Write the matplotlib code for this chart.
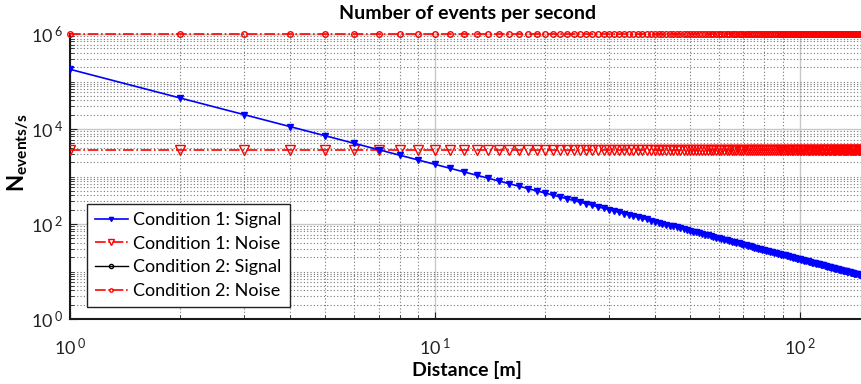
import matplotlib
matplotlib.use("Agg")
import matplotlib.pyplot as plt
from matplotlib.ticker import FixedLocator, FixedFormatter, NullFormatter

plt.rcParams['font.family'] = ['Lato', 'DejaVu Sans']
plt.rcParams['mathtext.fontset'] = 'custom'
plt.rcParams['mathtext.rm'] = 'Lato'
plt.rcParams['mathtext.it'] = 'Lato:italic'
plt.rcParams['mathtext.bf'] = 'Lato:bold'
plt.rcParams['mathtext.default'] = 'regular'

# Distance from the source [m]
distance = list(range(1, 151))

# Condition 1 signal rate [events/s] at each distance
cond1_signal = [
    180000, 45000, 20000, 11250, 7200, 5000, 3673, 2812, 2222, 1800,
    1488, 1250, 1065, 918.4, 800.0, 703.1, 622.8, 555.6, 498.6, 450.0,
    408.2, 371.9, 340.3, 312.5, 288.0, 266.3, 246.9, 229.6, 214.0, 200.0,
    187.3, 175.8, 165.3, 155.7, 146.9, 138.9, 131.5, 124.7, 118.3, 112.5,
    107.1, 102.0, 97.35, 92.98, 88.89, 85.07, 81.49, 78.13, 74.97, 72.00,
    69.20, 66.57, 64.08, 61.73, 59.50, 57.40, 55.40, 53.51, 51.71, 50.00,
    48.37, 46.83, 45.35, 43.95, 42.60, 41.32, 40.10, 38.93, 37.81, 36.73,
    35.71, 34.72, 33.78, 32.87, 32.00, 31.16, 30.36, 29.59, 28.84, 28.13,
    27.43, 26.77, 26.13, 25.51, 24.91, 24.34, 23.78, 23.24, 22.72, 22.22,
    21.74, 21.27, 20.81, 20.37, 19.94, 19.53, 19.13, 18.74, 18.37, 18.00,
    17.65, 17.30, 16.97, 16.64, 16.33, 16.02, 15.72, 15.43, 15.15, 14.88,
    14.61, 14.35, 14.10, 13.85, 13.61, 13.38, 13.15, 12.93, 12.71, 12.50,
    12.29, 12.09, 11.90, 11.71, 11.52, 11.34, 11.16, 10.99, 10.82, 10.65,
    10.49, 10.33, 10.18, 10.02, 9.877, 9.732, 9.590, 9.452, 9.316, 9.184,
    9.054, 8.927, 8.802, 8.681, 8.561, 8.444, 8.330, 8.218, 8.108, 8.000,
]

# Background (noise) rates [events/s], flat with distance
cond1_noise_level = 3700.0
cond2_noise_level = 1.0e6
cond1_noise = [cond1_noise_level] * len(distance)
cond2_noise = [cond2_noise_level] * len(distance)

# Condition 2 signal has no positive samples on the log axes
cond2_distance = []
cond2_signal = []

series_labels = ['Condition 1: Signal', 'Condition 1: Noise',
                 'Condition 2: Signal', 'Condition 2: Noise']

y_major = [1e0, 1e2, 1e4, 1e6]
y_major_labels = [r'10$^{\;0}$', r'10$^{\;2}$', r'10$^{\;4}$', r'10$^{\;6}$']
x_major = [1e0, 1e1, 1e2]
x_major_labels = [r'10$^{\;0}$', r'10$^{\;1}$', r'10$^{\;2}$']

W, H = 861, 384
fig = plt.figure(figsize=(W / 100, H / 100), dpi=100)
left_px, right_px, top_px, bottom_px = 70.3, 864.0, 34.0, 319.0
ax = fig.add_axes([left_px / W, 1 - bottom_px / H,
                   (right_px - left_px) / W, (bottom_px - top_px) / H])

ax.set_xscale('log')
ax.set_yscale('log')
ax.set_xlim(1, 150)
ax.set_ylim(1, 1e6)

ax.plot(distance, cond1_signal, color='#0000ff', linestyle='-', linewidth=1.2,
        marker='v', markersize=5, markerfacecolor='#0000ff',
        markeredgecolor='#0000ff', label=series_labels[0], zorder=4)
ax.plot(distance, cond1_noise, color='#ff0000', linestyle='-.', linewidth=1.2,
        marker='v', markersize=7, markerfacecolor='none',
        markeredgecolor='#ff0000', markeredgewidth=1.0,
        label=series_labels[1], zorder=3)
ax.plot(cond2_distance, cond2_signal, color='black', linestyle='-',
        linewidth=1.0, marker='o', markersize=5, markerfacecolor='none',
        label=series_labels[2], zorder=3)
ax.plot(distance, cond2_noise, color='#ff0000', linestyle='-.', linewidth=1.2,
        marker='o', markersize=4, markerfacecolor='none',
        markeredgecolor='#ff0000', markeredgewidth=1.0,
        label=series_labels[3], zorder=3, clip_on=False)

# Major / minor ticks
ax.xaxis.set_major_locator(FixedLocator(x_major))
ax.xaxis.set_major_formatter(FixedFormatter(x_major_labels))
x_minor = [m * 10 ** k for k in range(0, 3) for m in range(2, 10)
           if m * 10 ** k <= 150]
ax.xaxis.set_minor_locator(FixedLocator(x_minor))
ax.xaxis.set_minor_formatter(NullFormatter())

ax.yaxis.set_major_locator(FixedLocator(y_major))
ax.yaxis.set_major_formatter(FixedFormatter(y_major_labels))
y_minor = [m * 10 ** k for k in range(0, 6) for m in range(2, 11)
           if m * 10 ** k not in y_major]
ax.yaxis.set_minor_locator(FixedLocator(y_minor))
ax.yaxis.set_minor_formatter(NullFormatter())

ax.grid(True, which='major', color='#c8c8c8', linestyle='-', linewidth=1.0)
ax.grid(True, which='minor', color='#777777', linestyle=(0, (1, 2)),
        linewidth=0.8)
ax.set_axisbelow(True)

ax.tick_params(which='both', direction='in', colors='#222222')
ax.tick_params(which='major', length=5, width=0.8, labelsize=13)
ax.tick_params(which='minor', length=3, width=0.6)
ax.tick_params(axis='x', which='major', pad=13)
ax.tick_params(axis='y', which='major', pad=5)

for side in ('left', 'bottom'):
    ax.spines[side].set_color('#1a1a1a')
    ax.spines[side].set_linewidth(1.5)
for side in ('top', 'right'):
    ax.spines[side].set_color('#c8c8c8')
    ax.spines[side].set_linewidth(1.0)

ax.set_title('Number of events per second', fontsize=14,
             fontweight='bold', pad=11)
ax.set_xlabel('Distance [m]', fontsize=14, fontweight='bold', labelpad=2)
ax.set_ylabel(r'N$_{\mathbf{events/s}}$', fontsize=16, fontweight='bold')
ax.yaxis.set_label_coords(-0.049, 0.585)

leg = ax.legend(loc='lower left', bbox_to_anchor=(0.021, 0.042),
                fontsize=13, frameon=True, fancybox=False, markerscale=0.6,
                handlelength=1.8, handletextpad=0.3, borderpad=0.45,
                labelspacing=0.42, borderaxespad=0.0)
leg.get_frame().set_edgecolor('#222222')
leg.get_frame().set_linewidth(1.0)
leg.get_frame().set_alpha(1.0)

fig.savefig('out.png', dpi=100)
